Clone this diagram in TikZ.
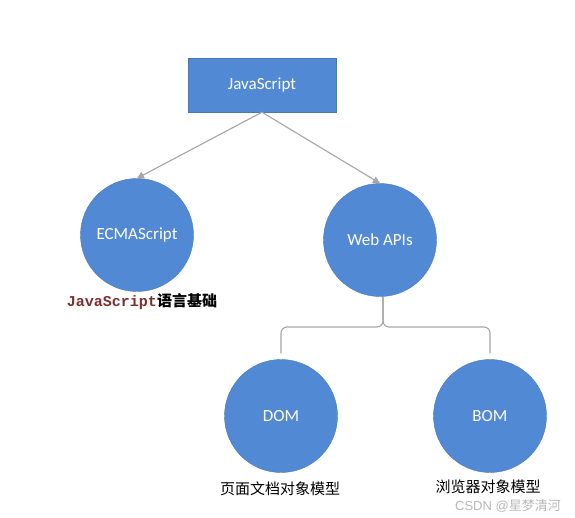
\documentclass[tikz,border=0pt]{standalone}
\usepackage{fontspec}
\setmainfont{Carlito}
\setmonofont{Liberation Mono}
\newfontfamily\cjk{Noto Sans CJK SC}
\usetikzlibrary{arrows.meta}
\definecolor{ballblue}{HTML}{5189D4}
\definecolor{balledge}{HTML}{4A78B0}
\definecolor{linegray}{HTML}{A6A6A6}
\definecolor{codered}{HTML}{7E2E2E}
\tikzset{
  ball/.style={circle,fill=ballblue,draw=balledge,minimum size=113pt,inner sep=0pt,text=white,font=\fontsize{17}{20}\selectfont},
  link/.style={linegray,line width=1.1pt,-{Triangle[length=7pt,width=7pt]}},
  caption/.style={font=\cjk\fontsize{15}{17}\selectfont}
}
\begin{document}
\begin{tikzpicture}[x=1pt,y=-1pt]
\useasboundingbox[fill=white] (0,0) rectangle (575,517);
\node[fill=ballblue,draw=balledge,minimum width=148pt,minimum height=54pt,text=white,font=\fontsize{17}{20}\selectfont] (js) at (262,85) {JavaScript};
\node[ball] (ecma) at (137,235) {ECMAScript};
\node[ball] (web) at (380,240) {Web APIs};
\node[ball] (dom) at (281,416) {DOM};
\node[ball] (bom) at (490,416) {BOM};
\draw[link] (js.south) -- (ecma.north);
\draw[link] (js.south) -- (web.north);
% brace under Web APIs
\coordinate (bend) at (0,327);
\draw[linegray,line width=1.1pt,rounded corners=6pt] ([xshift=3pt]web.south) |- (bend -| dom.north) -- ([yshift=6pt]dom.north);
\draw[linegray,line width=1.1pt,rounded corners=6pt] ([xshift=3pt]web.south) |- (bend -| bom.north) -- ([yshift=6pt]bom.north);
\node[caption] (ecmatext) at (142,302) {\textcolor{codered}{\bfseries\ttfamily JavaScript}{\cjk\bfseries 语言基础}};
\node[caption] (domtext) at (280,489) {页面文档对象模型};
\node[caption] (bomtext) at (488,487) {浏览器对象模型};
\node[font=\cjk\fontsize{13}{15}\selectfont,text=gray!55,anchor=east,inner sep=1pt] (mark) at (562,506) {\fontspec{Liberation Sans}CSDN @\cjk 星梦清河};
\end{tikzpicture}
\end{document}
